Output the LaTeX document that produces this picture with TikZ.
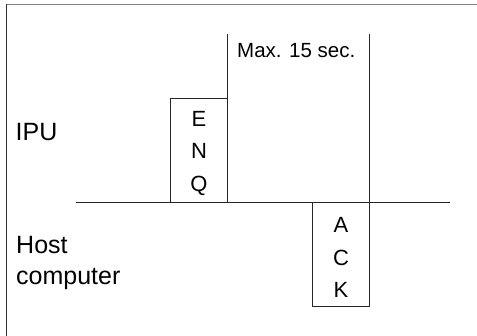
\documentclass[tikz,border=0pt]{standalone}
\usepackage{fontspec}
\setmainfont{Liberation Sans}
\begin{document}
\begin{tikzpicture}[x=1pt,y=-1pt,
  ln/.style={line width=0.8pt,draw=black!85},
  boxs/.style={ln,draw,minimum width=57pt,minimum height=104pt,inner sep=0pt,outer sep=0pt},
  lbl/.style={inner sep=0pt,font=\fontsize{25}{31}\selectfont,align=left},
  sig/.style={inner sep=0pt,font=\fontsize{22}{32.5}\selectfont,align=center}]
\useasboundingbox (0,0) rectangle (477,336);
% frame
\draw[line width=1.2pt,draw=black!50] (6,4.7) -- (477,4.7);
\draw[line width=1.4pt,draw=black!80] (6.2,4) -- (6.2,336);
% time line
\coordinate (l0) at (76,202);
\coordinate (l1) at (450,202);
\draw[ln] (l0) -- (l1);
% ENQ box
\node[boxs,anchor=south west] (enq) at (170,202) {};
\node[sig] (enqt) at (199,153.5) {E\\N\\Q};
% vertical markers
\coordinate (t0) at (227,34);
\coordinate (t1) at (369,34);
\draw[ln] (enq.north east) -- (t0);
% ACK box
\node[boxs,anchor=north east] (ack) at (369,202) {};
\node[sig] (ackt) at (341,257.5) {A\\C\\K};
\draw[ln] (ack.north east) -- (t1);
% labels
\node[inner sep=0pt,anchor=base west,font=\fontsize{20.5}{24}\selectfont] (max) at (237,57.5) {Max. 15 sec.};
\node[lbl,anchor=base west] (ipu) at (15.5,141) {IPU};
\node[lbl,anchor=base west] (host) at (16,254) {Host};
\node[lbl,anchor=base west] (comp) at (16,284.5) {computer};
\end{tikzpicture}
\end{document}
